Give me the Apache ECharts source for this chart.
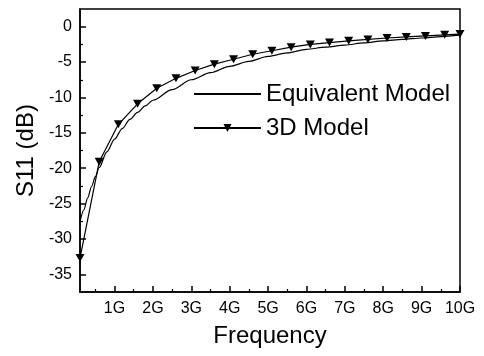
<!DOCTYPE html>
<html>
<head>
<meta charset="utf-8">
<script src="https://cdn.jsdelivr.net/npm/echarts@6/dist/echarts.min.js"></script>
<style>html,body{margin:0;padding:0;background:#fff}#c{width:484px;height:356px}</style>
</head>
<body>
<div id="c"></div>
<script>
// Frequency in GHz
const eqFreq = [0.1, 0.2, 0.3, 0.4, 0.5, 0.6, 0.8, 1.0, 1.2, 1.4, 1.6, 1.8, 2.0, 2.5, 3.0, 3.5, 4.0, 4.5, 5.0, 5.5, 6.0, 6.5, 7.0, 7.5, 8.0, 8.5, 9.0, 9.5, 10.0];
const eqS11 = [-27.6, -25.9, -24.2, -22.6, -21.2, -19.9, -17.7, -15.9, -14.4, -13.1, -12.1, -11.2, -10.4, -8.9, -7.5, -6.5, -5.6, -4.9, -4.2, -3.7, -3.2, -2.9, -2.6, -2.3, -2.0, -1.8, -1.6, -1.4, -1.2];
const d3Freq = [0.1, 0.6, 1.1, 1.6, 2.1, 2.6, 3.1, 3.6, 4.1, 4.6, 5.1, 5.6, 6.1, 6.6, 7.1, 7.6, 8.1, 8.6, 9.1, 9.6, 10.0];
const d3S11 = [-32.7, -19.1, -13.8, -10.9, -8.7, -7.3, -6.2, -5.3, -4.6, -3.9, -3.4, -2.9, -2.5, -2.25, -2.0, -1.8, -1.6, -1.45, -1.3, -1.15, -1.05];
const xMajor = [1, 2, 3, 4, 5, 6, 7, 8, 9, 10];
const yMajor = [-35, -30, -25, -20, -15, -10, -5, 0];
const seriesNames = ['Equivalent Model', '3D Model'];

const FONT = 'Liberation Sans, Arial, sans-serif';
const X_MIN = 0.1, X_MAX = 10, Y_MIN = -37.5, Y_MAX = 2.5;
const G = {left: 80, right: 24, top: 9, bottom: 64};
const W = 484 - G.left - G.right, H = 356 - G.top - G.bottom;
const px = W / (X_MAX - X_MIN), py = H / (Y_MAX - Y_MIN);

const chart = echarts.init(document.getElementById('c'), null, {renderer: 'canvas'});
const tri = 'path://M0,0 L10,0 L5,9 Z';
const invisible = 'path://M0,0 L0.01,0 L0.01,0.01 Z M10,10 L10.01,10 L10.01,10.01 Z';
const blank = {show: false};
// tick-only grids aligned with the main plot
function xTickGrid(lo, hi, len) {
  return {grid: {left: G.left + (lo - X_MIN) * px, right: G.right + (X_MAX - hi) * px, top: G.top, bottom: G.bottom},
          axis: {min: lo, max: hi, interval: 1, len: len}};
}
function yTickGrid(lo, hi, len) {
  return {grid: {left: G.left, right: G.right, top: G.top + (Y_MAX - hi) * py, bottom: G.bottom + (lo - Y_MIN) * py},
          axis: {min: lo, max: hi, interval: 5, len: len}};
}
const tg = [xTickGrid(1, 10, 6), xTickGrid(0.5, 9.5, 3), yTickGrid(-35, 0, 6), yTickGrid(-32.5, -2.5, 3)];

const grids = [Object.assign({show: true, borderColor: '#000', borderWidth: 1.5, backgroundColor: 'transparent'}, G)]
  .concat(tg.map(t => t.grid));
const xAxes = [{
  type: 'value', gridIndex: 0, min: X_MIN, max: X_MAX, position: 'bottom', splitLine: blank,
  name: 'Frequency', nameLocation: 'middle', nameGap: 32,
  nameTextStyle: {fontFamily: FONT, fontSize: 24, color: '#000'},
  axisLine: {show: true, onZero: false, lineStyle: {color: '#000', width: 1.5}},
  axisTick: {show: false},
  axisLabel: {show: true, margin: 9, customValues: xMajor, formatter: v => v + 'G', fontFamily: FONT, fontSize: 16, color: '#000'}
}];
const yAxes = [{
  type: 'value', gridIndex: 0, min: Y_MIN, max: Y_MAX, position: 'left', splitLine: blank,
  name: 'S11 (dB)', nameLocation: 'middle', nameGap: 40, nameRotate: 90,
  nameTextStyle: {fontFamily: FONT, fontSize: 24, color: '#000'},
  axisLine: {show: true, onZero: false, lineStyle: {color: '#000', width: 1.5}},
  axisTick: {show: false},
  axisLabel: {show: true, margin: 8, customValues: yMajor, fontFamily: FONT, fontSize: 16, color: '#000'}
}];
tg.forEach((t, k) => {
  const gi = k + 1;
  const tickAxis = {
    type: 'value', gridIndex: gi, min: t.axis.min, max: t.axis.max, interval: t.axis.interval,
    splitLine: blank, axisLabel: blank,
    axisLine: {show: false, onZero: false},
    axisTick: {show: true, inside: true, length: t.axis.len, lineStyle: {color: '#000', width: t.axis.len > 4 ? 1.5 : 1.2}}
  };
  const hidden = {type: 'value', gridIndex: gi, min: 0, max: 1, show: false, axisLine: {onZero: false}};
  if (k < 2) {
    xAxes.push(Object.assign({position: 'bottom'}, tickAxis));
    yAxes.push(Object.assign({position: 'left'}, hidden));
  } else {
    yAxes.push(Object.assign({position: 'left'}, tickAxis));
    xAxes.push(Object.assign({position: 'bottom'}, hidden));
  }
});

chart.setOption({
  animation: false,
  backgroundColor: '#fff',
  grid: grids,
  legend: {
    orient: 'vertical', left: 188, top: 77, itemWidth: 67, itemHeight: 10, itemGap: 10,
    data: seriesNames,
    textStyle: {fontFamily: FONT, fontSize: 24, color: '#000', lineHeight: 24},
    inactiveColor: '#000'
  },
  xAxis: xAxes,
  yAxis: yAxes,
  series: [
    {
      name: seriesNames[0], type: 'line', xAxisIndex: 0, yAxisIndex: 0,
      data: eqFreq.map((f, i) => [f, eqS11[i]]),
      showSymbol: false, symbol: invisible, smooth: 0.3, smoothMonotone: 'x',
      lineStyle: {color: '#000', width: 1.2}, itemStyle: {color: '#000'}
    },
    {
      name: seriesNames[1], type: 'line', xAxisIndex: 0, yAxisIndex: 0,
      data: d3Freq.map((f, i) => [f, d3S11[i]]),
      symbol: tri, symbolSize: [9, 8], showSymbol: true,
      lineStyle: {color: '#000', width: 1.2}, itemStyle: {color: '#000'}
    }
  ]
});
</script>
</body>
</html>
